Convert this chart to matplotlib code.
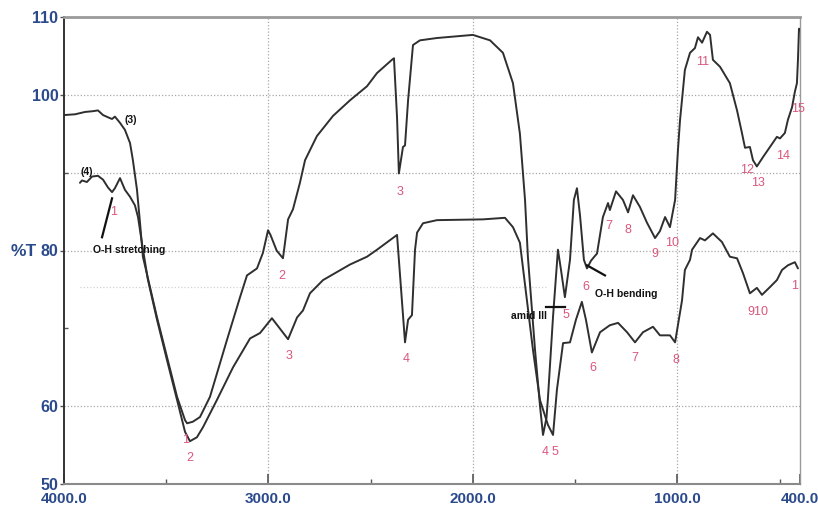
import matplotlib
matplotlib.use("Agg")
import matplotlib.pyplot as plt
from matplotlib.ticker import FixedLocator

plt.rcParams['font.family'] = ['Liberation Sans', 'DejaVu Sans']

# Spectrum (3): wavenumber (cm-1) and transmittance (%T)
wn_3 = [4000, 3946, 3897, 3858, 3834, 3809, 3775, 3765, 3751, 3726, 3702, 3677, 3663,
        3643, 3628, 3614, 3545, 3496, 3447, 3408, 3398, 3370, 3335, 3286, 3203, 3139,
        3105, 3056, 3027, 3002, 2990, 2960, 2929, 2904, 2880, 2846, 2821, 2763, 2684,
        2601, 2518, 2469, 2396, 2386, 2371, 2362, 2342, 2332, 2317, 2293, 2259, 2176,
        2000, 1916, 1853, 1804, 1770, 1745, 1731, 1696, 1672, 1657, 1640, 1633, 1608,
        1584, 1569, 1550, 1525, 1506, 1491, 1476, 1457, 1442, 1422, 1403, 1393, 1364,
        1339, 1330, 1300, 1266, 1241, 1217, 1183, 1149, 1109, 1085, 1060, 1036, 1011,
        997, 987, 963, 938, 914, 899, 879, 855, 840, 826, 791, 743, 708, 684, 669, 645,
        630, 611, 581, 547, 513, 498, 474, 459, 439, 425, 415, 410, 405, 400]
t_3 = [97.4, 97.5, 97.8, 97.9, 98.0, 97.4, 97.0, 96.9, 97.2, 96.4, 95.5, 93.8, 91.6,
       87.8, 83.5, 79.2, 71.4, 66.3, 61.2, 58.2, 57.8, 58.0, 58.6, 61.2, 68.5, 74.0,
       76.8, 77.7, 79.7, 82.6, 82.0, 80.0, 79.0, 84.0, 85.3, 88.7, 91.6, 94.7, 97.3,
       99.3, 101.1, 102.8, 104.5, 104.7, 97.1, 89.9, 93.3, 93.5, 99.3, 106.4, 107.0, 107.3,
       107.7, 107.0, 105.4, 101.5, 95.0, 86.5, 79.2, 67.2, 60.1, 56.3, 58.5, 61.0, 71.5,
       80.1, 77.5, 74.0, 78.8, 86.5, 88.0, 84.5, 78.8, 77.7, 78.7, 79.3, 79.6, 84.3,
       86.1, 85.2, 87.6, 86.5, 84.9, 87.1, 85.6, 83.6, 81.6, 82.5, 84.3, 83.0, 86.5,
       92.9, 96.7, 103.2, 105.4, 106.0, 107.4, 106.7, 108.1, 107.7, 104.5, 103.6, 101.5,
       98.0, 95.1, 93.2, 93.3, 91.6, 90.8, 92.0, 93.3, 94.6, 94.4, 95.1, 96.8, 98.4,
       100.4, 101.5, 104.5, 108.5, 108.3]

# Spectrum (4)
wn_4 = [3922, 3912, 3888, 3863, 3834, 3809, 3785, 3765, 3751, 3726, 3702, 3677, 3653,
        3638, 3619, 3590, 3545, 3496, 3447, 3408, 3384, 3350, 3320, 3252, 3173, 3090,
        3041, 2983, 2904, 2860, 2831, 2797, 2733, 2601, 2518, 2469, 2371, 2332, 2317,
        2298, 2283, 2273, 2244, 2176, 1951, 1843, 1804, 1770, 1706, 1672, 1633, 1608,
        1589, 1559, 1525, 1496, 1467, 1447, 1418, 1378, 1330, 1290, 1246, 1207, 1168,
        1119, 1085, 1036, 1011, 977, 963, 938, 928, 889, 865, 826, 782, 743, 708, 679,
        645, 611, 586, 547, 513, 488, 459, 425, 410]
t_4 = [88.7, 89.0, 88.8, 89.5, 89.6, 89.1, 88.1, 87.5, 88.0, 89.3, 87.8, 86.9, 85.8,
       84.3, 81.0, 76.3, 71.1, 65.9, 60.8, 56.7, 55.5, 56.0, 57.3, 60.8, 65.0, 68.7,
       69.4, 71.3, 68.6, 71.4, 72.3, 74.5, 76.2, 78.2, 79.2, 80.1, 82.0, 68.2, 71.1,
       71.7, 80.1, 82.3, 83.5, 83.9, 84.0, 84.2, 83.0, 81.0, 67.2, 60.8, 57.6, 56.3,
       62.1, 68.1, 68.2, 71.1, 73.4, 71.1, 66.9, 69.5, 70.4, 70.7, 69.5, 68.2, 69.5,
       70.2, 69.1, 69.1, 68.2, 73.6, 77.5, 78.8, 80.1, 81.6, 81.3, 82.2, 81.1, 79.2,
       79.0, 77.1, 74.5, 75.2, 74.3, 75.3, 76.2, 77.5, 78.1, 78.5, 77.7]

# Band numbers: (text, wavenumber, %T)
band_labels = [
    ("1", 3403, 55.6), ("2", 3384, 53.4), ("2", 2934, 76.7), ("3", 2900, 66.4),
    ("3", 2357, 87.5), ("4", 2327, 66.0), ("4", 1647, 54.1), ("5", 1598, 54.1),
    ("5", 1545, 71.7), ("6", 1447, 75.3), ("6", 1413, 64.9), ("7", 1334, 83.1),
    ("8", 1241, 82.6), ("9", 1109, 79.5), ("10", 1026, 80.9), ("7", 1207, 66.2),
    ("8", 1007, 65.9), ("11", 875, 104.2), ("12", 659, 90.3), ("13", 606, 88.7),
    ("14", 483, 92.1), ("15", 410, 98.2), ("910", 606, 72.1), ("1", 425, 75.4),
    ("1", 3760, 85.0),
]

x_major = [4000, 3000, 2000, 1000, 400]
x_labels = ["4000.0", "3000.0", "2000.0", "1000.0", "400.0"]
x_minor = [3500, 2500, 1500, 500]
y_major = [50, 60, 80, 100, 110]
y_minor = [70, 90]

fig = plt.figure(figsize=(8.18, 5.08), dpi=100)
ax = fig.add_axes([64 / 818, 1 - 484 / 508, (800 - 64) / 818, (484 - 17) / 508])

ax.set_xlim(4000, 400)
ax.set_ylim(50, 110)

grid_kw = dict(color='#a8a8a8', lw=0.9, ls=(0, (1, 1.6)), zorder=0)
for v in [100, 90, 80, 60]:
    ax.axhline(v, **grid_kw)
ax.plot([3922, 1633], [75.3, 75.3], color='#d2d2d2', lw=0.9, ls=(0, (1, 1.6)), zorder=0)
for v in [3000, 2000, 1000]:
    ax.axvline(v, **grid_kw)

line_kw = dict(color='#2f2f2f', lw=1.4, zorder=3, solid_joinstyle='round',
               solid_capstyle='round')
ax.plot(wn_3, t_3, **line_kw)
ax.plot(wn_4, t_4, **line_kw)

pink = '#d9577c'
for txt, x, y in band_labels:
    ax.text(x, y, txt, color=pink, fontsize=9, ha='center', va='center', zorder=4)

# Curve identifiers and assignments
bold = dict(color='#111111', fontsize=7.5, fontweight='bold', zorder=5)
ax.text(3672, 96.8, "(3)", ha='center', va='center', **bold)
ax.text(3888, 90.1, "(4)", ha='center', va='center', **bold)
ax.text(3858, 80.1, "O-H stretching", ha='left', va='center', **bold)
ax.plot([3814, 3765], [81.7, 86.7], color='#111111', lw=1.6, zorder=5)
ax.text(1403, 74.4, "O-H bending", ha='left', va='center', **bold)
ax.plot([1442, 1354], [78.1, 76.8], color='#111111', lw=1.6, zorder=5)
ax.text(1640, 71.6, "amid III", ha='right', va='center', **bold)
ax.plot([1643, 1550], [72.7, 72.7], color='#111111', lw=1.6, zorder=5)

# Axes styling
ax.spines['left'].set_color('#333333')
ax.spines['left'].set_linewidth(1.4)
ax.spines['bottom'].set_color('#8a8a8a')
ax.spines['bottom'].set_linewidth(1.5)
ax.spines['top'].set_color('#9a9a9a')
ax.spines['top'].set_linewidth(2.0)
ax.spines['right'].set_color('#9a9a9a')
ax.spines['right'].set_linewidth(1.0)

tick_color = '#2b4a8c'
ax.xaxis.set_major_locator(FixedLocator(x_major))
ax.set_xticklabels(x_labels)
ax.xaxis.set_minor_locator(FixedLocator(x_minor))
ax.yaxis.set_major_locator(FixedLocator(y_major))
ax.set_yticklabels([str(v) for v in y_major])
ax.yaxis.set_minor_locator(FixedLocator(y_minor))

ax.tick_params(axis='x', which='major', direction='in', length=7, width=1.2,
               color='#555555', pad=6, labelsize=11, labelcolor=tick_color)
ax.tick_params(axis='x', which='minor', direction='in', length=3.5, width=1.0,
               color='#555555')
ax.tick_params(axis='y', which='major', direction='out', length=3, width=1.0,
               color='#555555', pad=1, labelsize=11.5, labelcolor=tick_color)
ax.tick_params(axis='y', which='minor', direction='in', length=3, width=1.0,
               color='#555555')
for lbl in ax.get_xticklabels() + ax.get_yticklabels():
    lbl.set_fontweight('bold')

fig.text(24 / 818, 1 - 252 / 508, "%T", color=tick_color, fontsize=12.5,
         fontweight='bold', ha='center', va='center')

fig.savefig("out.png", dpi=100)
